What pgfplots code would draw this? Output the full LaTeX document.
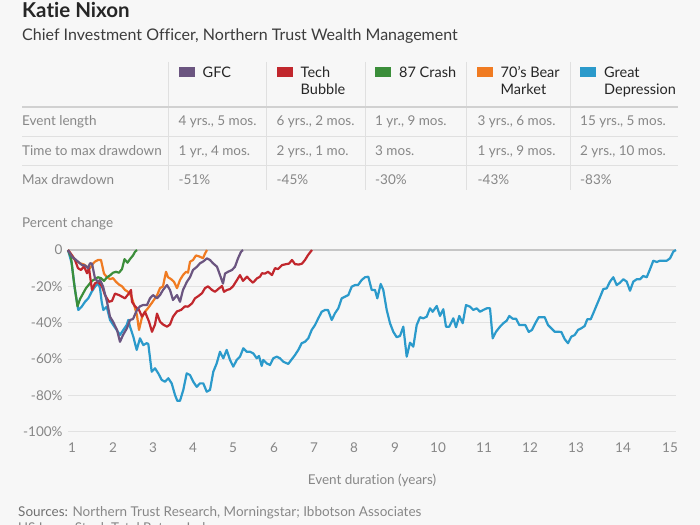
\documentclass[border=0pt]{standalone}
\usepackage{pgfplots}
\pgfplotsset{compat=1.18}
\usepackage{fontspec}
\setmainfont{Lato}[Ligatures=NoCommon]
\definecolor{bg}{HTML}{F7F7F7}
\definecolor{gfc}{HTML}{6B5580}
\definecolor{tech}{HTML}{C1272D}
\definecolor{crash}{HTML}{3B8E3A}
\definecolor{bear}{HTML}{F07B22}
\definecolor{dep}{HTML}{2B9ACB}
\definecolor{txtdark}{HTML}{262626}
\definecolor{txtgrey}{HTML}{878787}
\definecolor{srcdark}{HTML}{707070}
\definecolor{gridc}{HTML}{E2E2E2}
\definecolor{zeroc}{HTML}{C6C6C6}
\definecolor{sepc}{HTML}{E0E0E0}
\newcommand\fs[1]{\fontsize{#1bp}{#1bp}\selectfont}
\begin{document}
\begin{tikzpicture}
\begin{scope}[x=1bp,y=-1bp,shift={(0,525bp)}]
\fill[bg] (0,0) rectangle (700,525);
% title
\node[anchor=base west,inner sep=0,text=txtdark] at (22,18) {\fs{20.5}\bfseries Katie Nixon};
\node[anchor=base west,inner sep=0,text=txtdark!90] at (22,40.5) {\fs{16}Chief Investment Officer, Northern Trust Wealth Management};
% table lines
\foreach \xx in {168.5,266.7,365,466.5,570} \draw[sepc,line width=1bp] (\xx,62) -- (\xx,190);
\draw[zeroc!80,line width=2bp] (22,107) -- (678,107);
\draw[sepc,line width=1bp] (22,136.5) -- (678,136.5);
\draw[sepc,line width=1bp] (22,165.5) -- (678,165.5);
% header
\fill[gfc] (178.5,67.5) rectangle (194.5,77.5);
\fill[tech] (276.5,67.5) rectangle (292.5,77.5);
\fill[crash] (375,67.5) rectangle (391,77.5);
\fill[bear] (476.5,67.5) rectangle (492.5,77.5);
\fill[dep] (580,67.5) rectangle (596,77.5);
\begin{scope}[every node/.style={anchor=base west,inner sep=0,text=txtdark,font=\fs{14.5}}]
\node at (202.5,77.7) {GFC};
\node at (300.5,77.7) {Tech};
\node at (300.5,94.5) {Bubble};
\node at (399,77.7) {87 Crash};
\node at (500.5,77.7) {70's Bear};
\node at (500.5,94.5) {Market};
\node at (604,77.7) {Great};
\node at (604,94.5) {Depression};
\end{scope}
\begin{scope}[every node/.style={anchor=base west,inner sep=0,text=txtgrey,font=\fs{13.5}}]
\node at (22,126) {Event length};
\node at (22,155.5) {Time to max drawdown};
\node at (22,184.5) {Max drawdown};
\node at (178.5,126) {4 yrs., 5 mos.};
\node at (276.5,126) {6 yrs., 2 mos.};
\node at (375,126) {1 yr., 9 mos.};
\node at (477.5,126) {3 yrs., 6 mos.};
\node at (580,126) {15 yrs., 5 mos.};
\node at (178.5,155.5) {1 yr., 4 mos.};
\node at (276.5,155.5) {2 yrs., 1 mo.};
\node at (375,155.5) {3 mos.};
\node at (477.5,155.5) {1 yrs., 9 mos.};
\node at (580,155.5) {2 yrs., 10 mos.};
\node at (178.5,184.5) {-51\%};
\node at (276.5,184.5) {-45\%};
\node at (375,184.5) {-30\%};
\node at (477.5,184.5) {-43\%};
\node at (580,184.5) {-83\%};
\node at (22,228) {Percent change};
\node[anchor=base] at (372,485) {Event duration (years)};
\node at (18,517) {\textcolor{srcdark}{Sources:} Northern Trust Research, Morningstar; Ibbotson Associates};
\node at (18,533) {US Large Stock Total Return Index};
\end{scope}
\end{scope}
\begin{axis}[
  at={(68bp,93.3bp)}, anchor=south west,
  scale only axis, width=608bp, height=181.7bp,
  xmin=68, xmax=676, ymin=-100, ymax=0,
  clip=false,
  axis line style={draw=none},
  major tick length=0,
  ytick={-100,-80,-60,-40,-20,0},
  yticklabels={-100\%,-80\%,-60\%,-40\%,-20\%,0},
  xtick={72,113,153,193,233,274,314,354,395,438,484,530,576,623,670},
  xticklabels={1,2,3,4,5,6,7,8,9,10,11,12,13,14,15},
  ymajorgrids,
  grid style={gridc,line width=1bp},
  tick label style={font=\fs{13.5},text=txtgrey},
  /pgf/number format/assume math mode=true,
  yticklabel style={xshift=-2bp},
  xticklabel style={yshift=-8bp},
  every axis plot/.append style={line width=2.2bp,line join=round,no markers},
]
\draw[zeroc,line width=1.5bp] (axis cs:68,0) -- (axis cs:676,0);
% Great Depression
\addplot[dep] coordinates {
(68,0)(71.7,-7.3)(75,-22)(78.3,-33)(81.7,-31.2)(85,-28.5)(88.3,-26.6)(91.7,-23)(95,-20.2)(98.3,-18.3)(100,-21)(101.7,-28.5)(103.3,-33)(106.7,-31.2)(110,-38.5)(113.3,-41.3)(116.7,-44)(120,-46.8)(123.3,-44)(126.7,-41.3)(128.3,-38.5)(130,-42.2)(133.3,-47.7)(136.7,-55)(140,-48.6)(143.3,-52.3)(146.7,-51.3)(148.3,-51.7)(151.7,-67)(155,-65.1)(158.3,-67.9)(161.7,-71.5)(165,-72.5)(168.3,-70.6)(171.7,-73.4)(175,-79.8)(177.3,-83)(180,-83)(183.3,-77)(186.7,-67.9)(190,-68.8)(193.3,-72.5)(196.7,-75.3)(200,-73.4)(203.3,-73.4)(206.7,-78)(210,-77)(213.3,-67)(216.7,-62.4)(220,-56)(223.3,-59.6)(226.7,-55)(230,-60.5)(233.3,-64.2)(236.7,-60.5)(240,-58.7)(243.3,-54.1)(246.7,-56)(250,-56)(253.3,-56.9)(256.7,-59.6)(259,-58.3)(261.7,-63.8)(263.3,-60.5)(266.7,-62.4)(270,-63.3)(273.3,-59.6)(276.7,-58.7)(280,-59.6)(283.3,-61.5)(288.3,-62.7)(291.7,-60.2)(295,-57.8)(298.3,-55)(301.7,-51.3)(305,-50.5)(308.3,-48.6)(311.7,-44)(315,-41.3)(318.3,-37.6)(321.7,-34)(325,-33)(328,-33)(331.7,-38.5)(335,-34.8)(338.3,-32.1)(341.7,-26.6)(345,-25.7)(348.3,-24.8)(351.7,-20.2)(355,-19.3)(358,-19.3)(361.7,-16.5)(365,-15)(368.3,-14.7)(371.7,-22)(375,-22)(377.3,-26.6)(380.7,-18.7)(383.3,-22)(386.7,-33)(390,-40.3)(393.3,-45)(396.7,-48)(400,-47.3)(403.3,-42.2)(406.7,-58.7)(410,-51)(413.3,-53.2)(416.7,-41.3)(420,-37)(423.3,-37.6)(426.7,-36.7)(430,-32.1)(432.7,-34)(436.7,-30.8)(440,-36.3)(443.3,-32.6)(446,-42.2)(449.3,-42.2)(453.3,-37.6)(456,-42.5)(459.3,-36.3)(462.7,-40.3)(466,-30.3)(470,-31.2)(473.3,-33)(476.7,-32.1)(480,-34)(483.3,-33)(486.7,-32.1)(490,-32.1)(492.7,-48.6)(496,-45)(500,-42.2)(503.3,-40.3)(506.7,-38.9)(509.3,-36.3)(512.7,-37.8)(516,-37.8)(519.3,-41.3)(522.7,-41.3)(525.3,-41.3)(528.7,-45.1)(532,-44)(535.3,-40.3)(538.7,-37)(542,-37)(544.7,-37)(548,-41.3)(551.3,-43.1)(554.7,-45)(558,-45)(561.3,-45.1)(564.7,-49.1)(568,-51.3)(571.3,-47.7)(574.7,-46.8)(578,-44)(581.3,-43.1)(584.7,-41.8)(587.3,-38.1)(590.7,-38.1)(593.3,-34.8)(596.7,-30.3)(600,-26)(603.3,-21.5)(606.7,-21.1)(610,-17.4)(613.3,-15)(616.7,-19.3)(620,-18)(623.3,-16.1)(626.7,-17.4)(630,-22.4)(633.3,-17.4)(636.7,-16.1)(640,-16.1)(643.3,-14.3)(646.7,-15)(650,-10.6)(653.3,-5.9)(656.7,-6.6)(660,-5.9)(666.7,-5.9)(670,-4.6)(673.3,-0.9)(676,0)
};
% 70's Bear Market
\addplot[bear] coordinates {
(68,0)(72,-3)(75,-5.5)(80,-7.3)(84,-8)(87,-9.2)(90,-10)(93,-7.5)(95,-6.4)(98,-5.5)(101,-5.5)(104,-13)(107,-15)(110,-16)(113,-15.5)(116,-17.5)(119,-19)(122,-20)(125,-22)(128,-23)(131,-25)(134,-30)(137,-36)(139,-44)(142,-37)(145,-34)(148,-32)(152,-29)(157,-25)(160,-21)(163,-20)(166,-12)(168,-15)(171,-16)(174,-17.5)(177,-21)(180,-16.5)(183,-13.8)(186,-12)(188,-12.5)(190,-6.5)(193,-5.5)(196,-3)(199,-3.5)(203,-4.5)(205,-2)(207,0)
};
% 87 Crash
\addplot[crash] coordinates {
(68,0)(71,-4)(74,-18)(77.5,-31)(80,-27)(83,-24)(86,-21)(89,-19)(92,-17)(95,-16)(98,-15)(101,-15.5)(104,-17)(107,-15)(110,-14)(113,-12.5)(116,-12)(119,-12.5)(122,-10.5)(124.5,-5)(127.5,-7)(130,-5)(133,-3)(135,-1)(137,0)
};
% Tech Bubble
\addplot[tech] coordinates {
(68,0)(72,-3)(75,-5.5)(78,-10)(81,-11)(84,-9)(87,-12.8)(89,-10)(92,-22)(95,-18.3)(98,-17.5)(102,-20)(105,-24.8)(109,-28.5)(112,-28)(115,-24)(119,-24.8)(122,-25.7)(125,-26.6)(129,-23.8)(131,-22)(132,-28.5)(135,-31)(139,-33)(142,-36.7)(145,-34)(149,-39.4)(152,-45)(155,-41)(157,-35)(160,-39.4)(163,-41)(167,-42.2)(170,-41)(173,-36.7)(177,-33.8)(181,-33)(185,-31)(188,-31.2)(192,-29.4)(195,-26.6)(198,-25.5)(202,-23.8)(205,-21)(208,-20)(212,-22)(215,-23)(218,-21.6)(222,-19.8)(224,-23)(227,-22)(230,-21.5)(233,-20)(237,-16.5)(240,-13.8)(243,-17)(247,-14.7)(250,-16.5)(253,-18)(257,-15.6)(260,-14.7)(262,-12.8)(265,-13)(268,-12)(272,-13.8)(275,-10)(278,-10.5)(282,-8.3)(286,-7.8)(289,-7.5)(292,-5.5)(295,-7.8)(299,-8)(302,-7.5)(305,-5.5)(308,-2.8)(312,0)
};
% GFC
\addplot[gfc] coordinates {
(68,0)(72,-3.7)(75,-5)(78,-6.4)(82,-8.3)(85,-8.5)(88,-10)(90,-7.3)(92,-7.5)(95,-15.6)(98,-17.5)(100,-16.5)(103,-20)(107,-28.5)(110,-36.7)(113,-39.4)(117,-44)(120,-50.5)(123,-46.8)(127,-43)(130,-38.5)(133,-38)(137,-33)(140,-31)(143,-30.3)(147,-30.3)(150,-26.6)(153,-24.8)(157,-26.6)(160,-24.8)(163,-22)(167,-19.3)(170,-22)(173,-27.5)(177,-24.8)(180,-28.5)(183,-22)(187,-17.4)(190,-15)(193,-11)(197,-9.2)(200,-7.3)(203,-6.4)(207,-4.6)(210,-5.5)(213,-7.3)(217,-9.2)(220,-13.8)(223,-18.5)(225,-13)(228,-12)(232,-11)(235,-9.2)(238,-4.6)(241,-1)(243,0)
};
\end{axis}
\pgfresetboundingbox
\path (0,0) rectangle (700bp,525bp);
\end{tikzpicture}
\end{document}
